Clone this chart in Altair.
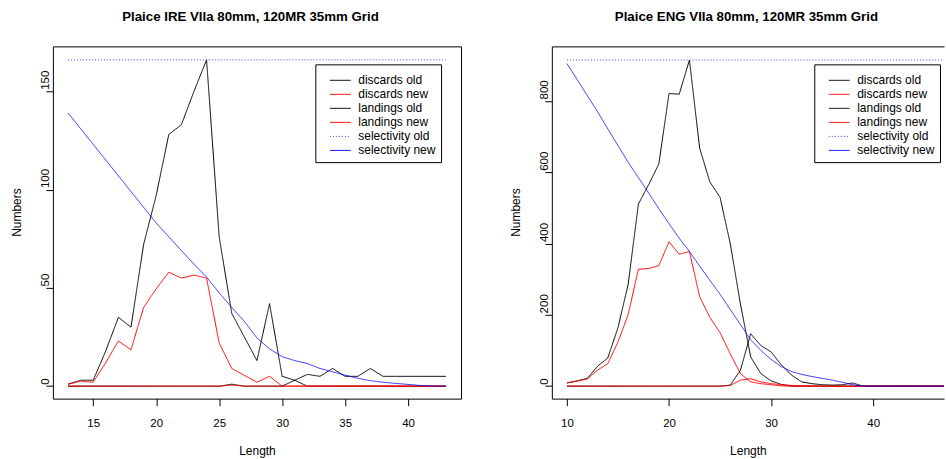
import altair as alt
import pandas as pd

series_names = ["discards old", "discards new", "landings old", "landings new",
                "selectivity old", "selectivity new"]
series_colors = ["#000000", "#FF0000", "#000000", "#FF0000", "#4040FF", "#0000FF"]
series_dash = [[1, 0], [1, 0], [1, 0], [1, 0], [1, 2], [1, 0]]
series_opacity = [1, 1, 1, 1, 1, 0.8]

# ---- Plaice IRE VIIa ----
ire_length = list(range(13, 44))
ire_discards_old = [1, 3, 3, 18, 35, 30, 72, 97, 128, 133, 150, 166, 76, 37, 25, 13, 42, 5, 3,
                    0, 0, 0, 0, 0, 0, 0, 0, 0, 0, 0, 0]
ire_discards_new = [1, 2.5, 2, 12, 23, 18.5, 40, 49.5, 58, 55, 56.5, 55, 22, 9, 5.5, 2, 5, 0,
                    0, 0, 0, 0, 0, 0, 0, 0, 0, 0, 0, 0, 0]
ire_landings_old = [0, 0, 0, 0, 0, 0, 0, 0, 0, 0, 0, 0, 0,
                    1, 0, 0, 0, 0, 3, 6, 5, 9, 5, 5, 9, 5, 5, 5, 5, 5, 5]
ire_landings_new = [0, 0, 0, 0, 0, 0, 0, 0, 0, 0, 0, 0, 0,
                    0.5, 0, 0, 0, 0, 0, 0, 0, 0, 0, 0, 0, 0, 0, 0, 0, 0, 0]
ire_selectivity_old = [166] * 31
ire_selectivity_new = [139, 131, 123, 115, 107, 99, 91, 83, 76, 69, 62, 55.5, 47.5, 40, 33, 24.5,
                       19, 15, 13, 11.5, 9, 7.3, 5.6, 4, 2.8, 2, 1.4, 0.9, 0.3, 0, 0]

# ---- Plaice ENG VIIa ----
eng_length = list(range(10, 48))
eng_discards_old = [9, 15, 22, 56, 79, 164, 286, 511, 565, 623, 821, 819, 915, 668, 573, 530,
                    400, 230, 82, 35, 15, 5] + [0] * 16
eng_discards_new = [9, 14, 20, 45, 63, 124, 201, 328, 330, 338, 405, 370, 378, 251, 193, 150,
                    91, 35, 12, 7, 4, 1] + [0] * 16
eng_landings_old = [0] * 16 + [3, 45, 147, 114, 96, 60, 31, 12, 7, 4, 3, 4, 9, 0] + [0] * 8
eng_landings_new = [0] * 16 + [2, 17, 21, 12, 7, 4.5, 2, 1, 0.5] + [0] * 13
eng_selectivity_old = [915] * 38
eng_selectivity_new = [905, 860, 815, 770, 722, 675, 628, 585, 542, 498, 456, 415, 378, 337, 297,
                       258, 215, 173, 130, 100, 75, 55, 41, 33, 27, 22, 17, 11, 4] + [0] * 9

FONT = "Liberation Sans"


def make_df(lengths, cols):
    rows = []
    for name, vals in zip(series_names, cols):
        for l, v in zip(lengths, vals):
            rows.append({"Length": l, "Numbers": v, "series": name})
    return pd.DataFrame(rows)


def panel(df, title, xdom, ydom, xticks, yticks, width, title_dx, right_border):
    leg = alt.Legend(
        title=" ", titleFontSize=3, titlePadding=2,
        orient="none", legendX=263, legendY=18, direction="vertical",
        symbolType="M-2.6,0H2.6", symbolSize=64, symbolStrokeWidth=1, symbolOpacity=1,
        symbolOffset=14, labelOffset=12, padding=5, rowPadding=2.05,
        labelFont=FONT, labelFontSize=12, labelColor="black", labelLimit=300,
        strokeColor="black", fillColor="white",
    )
    xs = alt.Scale(domain=xdom, nice=False, zero=False)
    ys = alt.Scale(domain=ydom, nice=False, zero=False)
    enc = dict(
        x=alt.X("Length:Q", scale=xs, axis=alt.Axis(
            values=xticks, title="Length", grid=False, domainColor="black", tickColor="black",
            tickSize=7, labelPadding=12, labelFont=FONT, labelFontSize=11.5, labelColor="black",
            titleFont=FONT, titleFontSize=12, titleFontWeight="normal", titleColor="black",
            titleY=56, titleBaseline="alphabetic", labelOverlap=False, labelFlush=False)),
        y=alt.Y("Numbers:Q", scale=ys, axis=alt.Axis(
            values=yticks, title="Numbers", grid=False, domainColor="black", tickColor="black",
            tickSize=7, labelAngle=270, labelAlign="left", labelBaseline="middle",
            labelPadding=0, labelOffset=-2, labelFont=FONT, labelFontSize=11.5,
            labelColor="black", labelOverlap=False, labelFlush=False,
            titleFont=FONT, titleFontSize=12, titleFontWeight="normal", titleColor="black",
            titleAngle=270, titleX=-32.5, titleY=166, titleAlign="center",
            titleBaseline="alphabetic")),
        color=alt.Color("series:N", scale=alt.Scale(domain=series_names, range=series_colors),
                        legend=leg),
        strokeDash=alt.StrokeDash("series:N", scale=alt.Scale(domain=series_names,
                                                              range=series_dash), legend=leg),
    )
    # one layer per series, drawn in the legend order (later ones on top)
    line_layers = [
        alt.Chart(df).transform_filter(alt.datum.series == name)
        .mark_line(strokeWidth=1, clip=True, opacity=op).encode(**enc)
        for name, op in zip(series_names, series_opacity)
    ]
    lines = alt.layer(*line_layers)
    if right_border:
        y_frame = alt.Y("Numbers:Q", scale=ys, axis=alt.Axis(
            orient="right", labels=False, ticks=False, title=None, grid=False,
            domainColor="black"))
    else:
        y_frame = alt.Y("Numbers:Q", scale=ys, axis=None)
    frame = alt.Chart(df).mark_line(opacity=0).encode(
        x=alt.X("Length:Q", scale=xs, axis=alt.Axis(
            orient="top", labels=False, ticks=False, title=None, grid=False,
            domainColor="black")),
        y=y_frame,
    )
    return alt.layer(lines, frame).resolve_axis(x="independent", y="independent").properties(
        width=width, height=353,
        title=alt.TitleParams(title, font=FONT, fontSize=13.3, fontWeight="bold", color="black",
                              anchor="middle", frame="group", dx=title_dx, offset=12.5,
                              baseline="alphabetic"),
    )


ire_df = make_df(ire_length, [ire_discards_old, ire_discards_new, ire_landings_old,
                              ire_landings_new, ire_selectivity_old, ire_selectivity_new])
eng_df = make_df(eng_length, [eng_discards_old, eng_discards_new, eng_landings_old,
                              eng_landings_new, eng_selectivity_old, eng_selectivity_new])

left = panel(ire_df, "Plaice IRE VIIa 80mm, 120MR 35mm Grid", [11.8, 44.2], [-6.35, 172.85],
             [15, 20, 25, 30, 35, 40], [0, 50, 100, 150], 409, -6.5, True)
right = panel(eng_df, "Plaice ENG VIIa 80mm, 120MR 35mm Grid", [8.52, 46.94], [-35.0, 953.2],
              [10, 20, 30, 40], [0, 200, 400, 600, 800], 393, -1.5, False)

chart = alt.hconcat(left, right, spacing=47).resolve_scale(
    color="independent", strokeDash="independent"
).properties(
    padding={"left": 10, "top": 8, "right": 0, "bottom": 0},
    background="white",
).configure_view(stroke="transparent")

chart.save("out.html", embed_options={"renderer": "svg", "actions": False})
